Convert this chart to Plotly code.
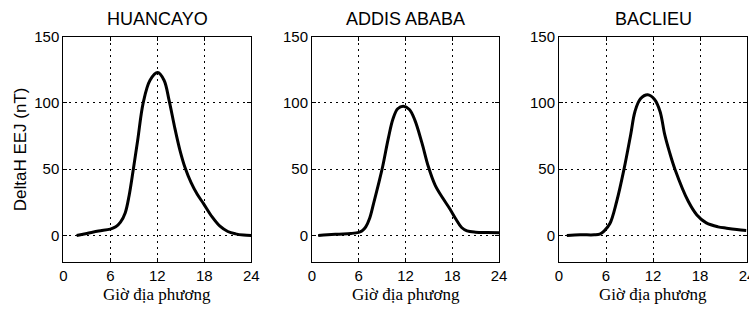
import plotly.graph_objects as go

titles = ["HUANCAYO", "ADDIS ABABA", "BACLIEU"]

huancayo_t = [1.7, 3.0, 4.5, 6.0, 6.7, 7.3, 7.9, 8.4, 8.94, 9.5, 10.2, 11.07, 12.05, 12.86, 13.5, 14.2, 14.9, 15.55, 16.3, 17.1, 17.9, 19.0, 20.0, 21.0, 22.0, 23.0, 24.0]
huancayo_v = [0.0, 1.5, 3.3, 4.8, 6.5, 10, 17, 30, 50, 72, 100, 117, 122.8, 117, 102, 82, 64, 51, 40, 31, 24, 14, 7, 3, 1.2, 0.3, 0.0]

addis_t = [0.8, 2.0, 3.5, 5.0, 6.0, 6.4, 6.9, 7.4, 7.9, 8.5, 9.07, 9.8, 10.4, 11.0, 11.72, 12.5, 13.2, 14.1, 14.93, 15.8, 16.8, 17.7, 18.5, 19.2, 19.9, 21.0, 22.5, 24.0]
addis_v = [0.0, 0.5, 1.0, 1.5, 2.3, 3.3, 6.5, 13, 24, 38, 52, 73.4, 88, 95.5, 97.5, 95, 87, 70, 52, 38, 28, 20, 12, 6, 3.5, 2.5, 2.2, 2.0]

baclieu_t = [1.0, 2.7, 4.5, 5.2, 5.75, 6.5, 7.37, 8.3, 9.15, 9.7, 10.4, 11.33, 12.2, 12.9, 13.5, 14.1, 14.8, 16.5, 17.6, 18.8, 20.3, 21.4, 22.7, 23.9]
baclieu_v = [0.0, 0.5, 0.5, 1.0, 3.3, 9, 25.8, 50, 76, 93.5, 103, 106, 102.5, 93.5, 76, 63, 50, 25.8, 15.5, 9.5, 6.5, 5.5, 4.5, 3.8]

x_ticks = [0, 6, 12, 18, 24]
y_ticks = [0, 50, 100, 150]
x_label = "Giờ địa phương"
y_label = "DeltaH EEJ (nT)"

series = [(huancayo_t, huancayo_v), (addis_t, addis_v), (baclieu_t, baclieu_v)]

x_domains = [[63.3 / 749, 251.3 / 749], [312 / 749, 499 / 749], [559 / 749, 747 / 749]]
y_domain = [49 / 311, 274.5 / 311]

fig = go.Figure()
annotations = []
for i, (t, v) in enumerate(series):
    n = "" if i == 0 else str(i + 1)
    fig.add_trace(go.Scatter(
        x=t, y=v, mode="lines",
        line=dict(color="black", width=3, shape="spline", smoothing=1.0),
        xaxis="x" + n, yaxis="y" + n, showlegend=False, hoverinfo="skip",
    ))
    axis_common = dict(
        showline=True, linecolor="black", linewidth=1, mirror="ticks",
        ticks="inside", ticklen=4, tickcolor="black",
        showgrid=True, gridcolor="black", gridwidth=1, griddash="2px,4px",
        zeroline=False, automargin=False, ticklabeloverflow="allow",
        tickfont=dict(family="Liberation Sans, Arial", size=15, color="black"),
    )
    fig.layout["xaxis" + n] = dict(
        axis_common, domain=x_domains[i], range=[0, 24],
        tickvals=x_ticks, ticktext=[str(x) for x in x_ticks],
        anchor="y" + n,
    )
    fig.layout["yaxis" + n] = dict(
        axis_common, domain=y_domain, range=[-20, 150],
        tickvals=y_ticks, ticktext=[str(y) for y in y_ticks],
        anchor="x" + n,
    )
    xc = (x_domains[i][0] + x_domains[i][1]) / 2
    annotations.append(dict(
        text=titles[i], x=xc, y=1 - 18.7 / 311, xref="paper", yref="paper",
        xanchor="center", yanchor="middle", showarrow=False,
        font=dict(family="Liberation Sans, Arial", size=18, color="black"),
    ))
    annotations.append(dict(
        text=x_label, x=xc, y=1 - 294 / 311, xref="paper", yref="paper",
        xanchor="center", yanchor="middle", showarrow=False,
        font=dict(family="Liberation Serif, Times New Roman", size=17, color="black"),
    ))

annotations.append(dict(
    text=y_label, x=20 / 749, y=1 - 149.25 / 311, xref="paper", yref="paper",
    xanchor="center", yanchor="middle", showarrow=False, textangle=-90,
    font=dict(family="Liberation Sans, Arial", size=17, color="black"),
))

fig.update_layout(
    width=749, height=311,
    margin=dict(l=0, r=0, t=0, b=0),
    paper_bgcolor="white", plot_bgcolor="white",
    annotations=annotations,
)

fig.write_html(
    "out.html",
    config={"displayModeBar": False},
    post_script="document.body.style.margin='0px';document.body.style.overflow='hidden';",
)
